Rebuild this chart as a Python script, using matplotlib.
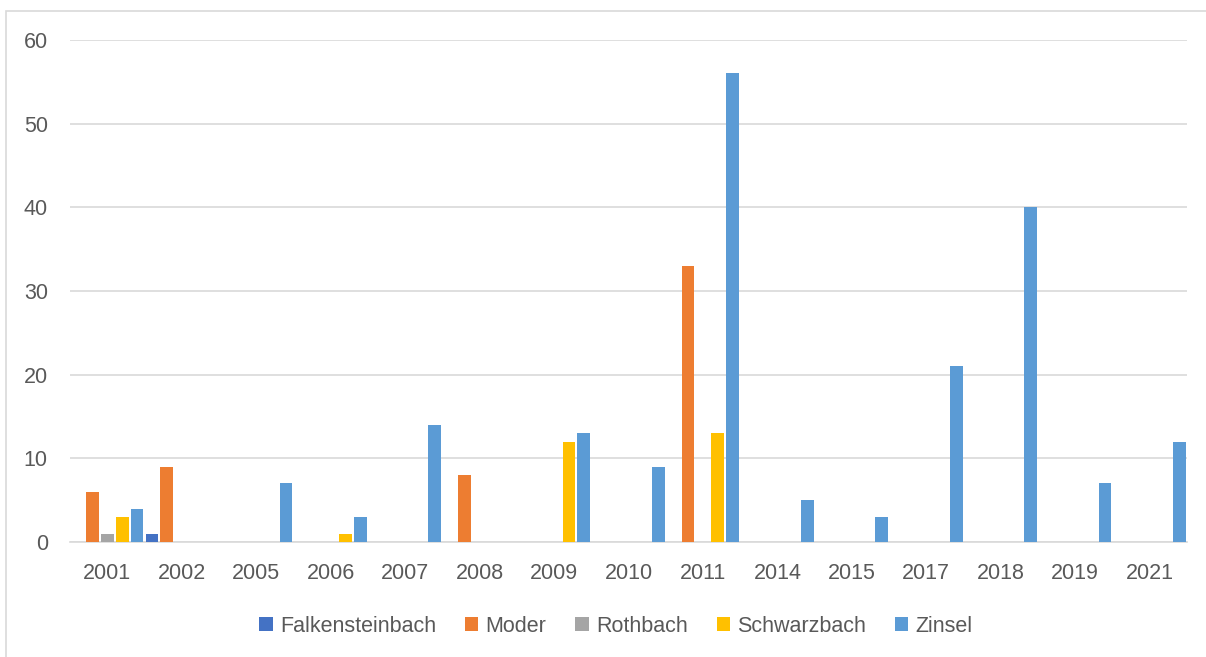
import numpy as np
import matplotlib
matplotlib.use("Agg")
import matplotlib.pyplot as plt
from matplotlib.patches import Rectangle

years = ["2001", "2002", "2005", "2006", "2007", "2008", "2009", "2010",
         "2011", "2014", "2015", "2017", "2018", "2019", "2021"]
falkensteinbach = [0, 1, 0, 0, 0, 0, 0, 0, 0, 0, 0, 0, 0, 0, 0]
moder = [6, 9, 0, 0, 0, 8, 0, 0, 33, 0, 0, 0, 0, 0, 0]
rothbach = [1, 0, 0, 0, 0, 0, 0, 0, 0, 0, 0, 0, 0, 0, 0]
schwarzbach = [3, 0, 0, 1, 0, 0, 12, 0, 13, 0, 0, 0, 0, 0, 0]
zinsel = [4, 0, 7, 3, 14, 0, 13, 9, 56, 5, 3, 21, 40, 7, 12]

series = [
    ("Falkensteinbach", falkensteinbach, "#4472C4"),
    ("Moder", moder, "#ED7D31"),
    ("Rothbach", rothbach, "#A5A5A5"),
    ("Schwarzbach", schwarzbach, "#FFC000"),
    ("Zinsel", zinsel, "#5B9BD5"),
]

plt.rcParams["font.family"] = ["Liberation Sans", "DejaVu Sans"]
text_color = "#595959"
grid_color = "#D9D9D9"

W, H = 1206, 657
fig = plt.figure(figsize=(W / 100, H / 100), dpi=100)
ax = fig.add_axes([70 / W, 1 - 542 / H, (1187 - 70) / W, (542 - 40) / H])

x = np.arange(len(years))
slot = 0.2
for i, (name, vals, color) in enumerate(series):
    ax.bar(x - 0.5 + slot * (i + 0.5), vals, width=slot * 0.86, color=color,
           label=name, zorder=3)

ax.set_xlim(-0.5, len(years) - 0.5)
ax.set_ylim(0, 60)
ax.set_yticks(range(0, 61, 10))
ax.set_xticks(x)
ax.set_xticklabels(years)
ax.yaxis.grid(True, color=grid_color, linewidth=1.2, zorder=0)
for s in ["top", "right", "left"]:
    ax.spines[s].set_visible(False)
ax.spines["bottom"].set_color(grid_color)
ax.spines["bottom"].set_linewidth(1.2)
ax.tick_params(axis="both", length=0, labelsize=15.5, colors=text_color)
ax.tick_params(axis="y", pad=16)
ax.tick_params(axis="x", pad=15)

leg = fig.legend(loc="center", bbox_to_anchor=(616 / W, 1 - 626 / H), ncol=5,
                 frameon=False, fontsize=15.5, handlelength=0.62, handleheight=0.62,
                 handletextpad=0.33, columnspacing=1.35)
for t in leg.get_texts():
    t.set_color(text_color)

# chart area border
fig.patches.append(Rectangle((6 / W, -0.01), 1.02, 1 - 11 / H + 0.01,
                             transform=fig.transFigure, fill=False,
                             edgecolor=grid_color, linewidth=1.2))

fig.savefig("out.png", dpi=100)
